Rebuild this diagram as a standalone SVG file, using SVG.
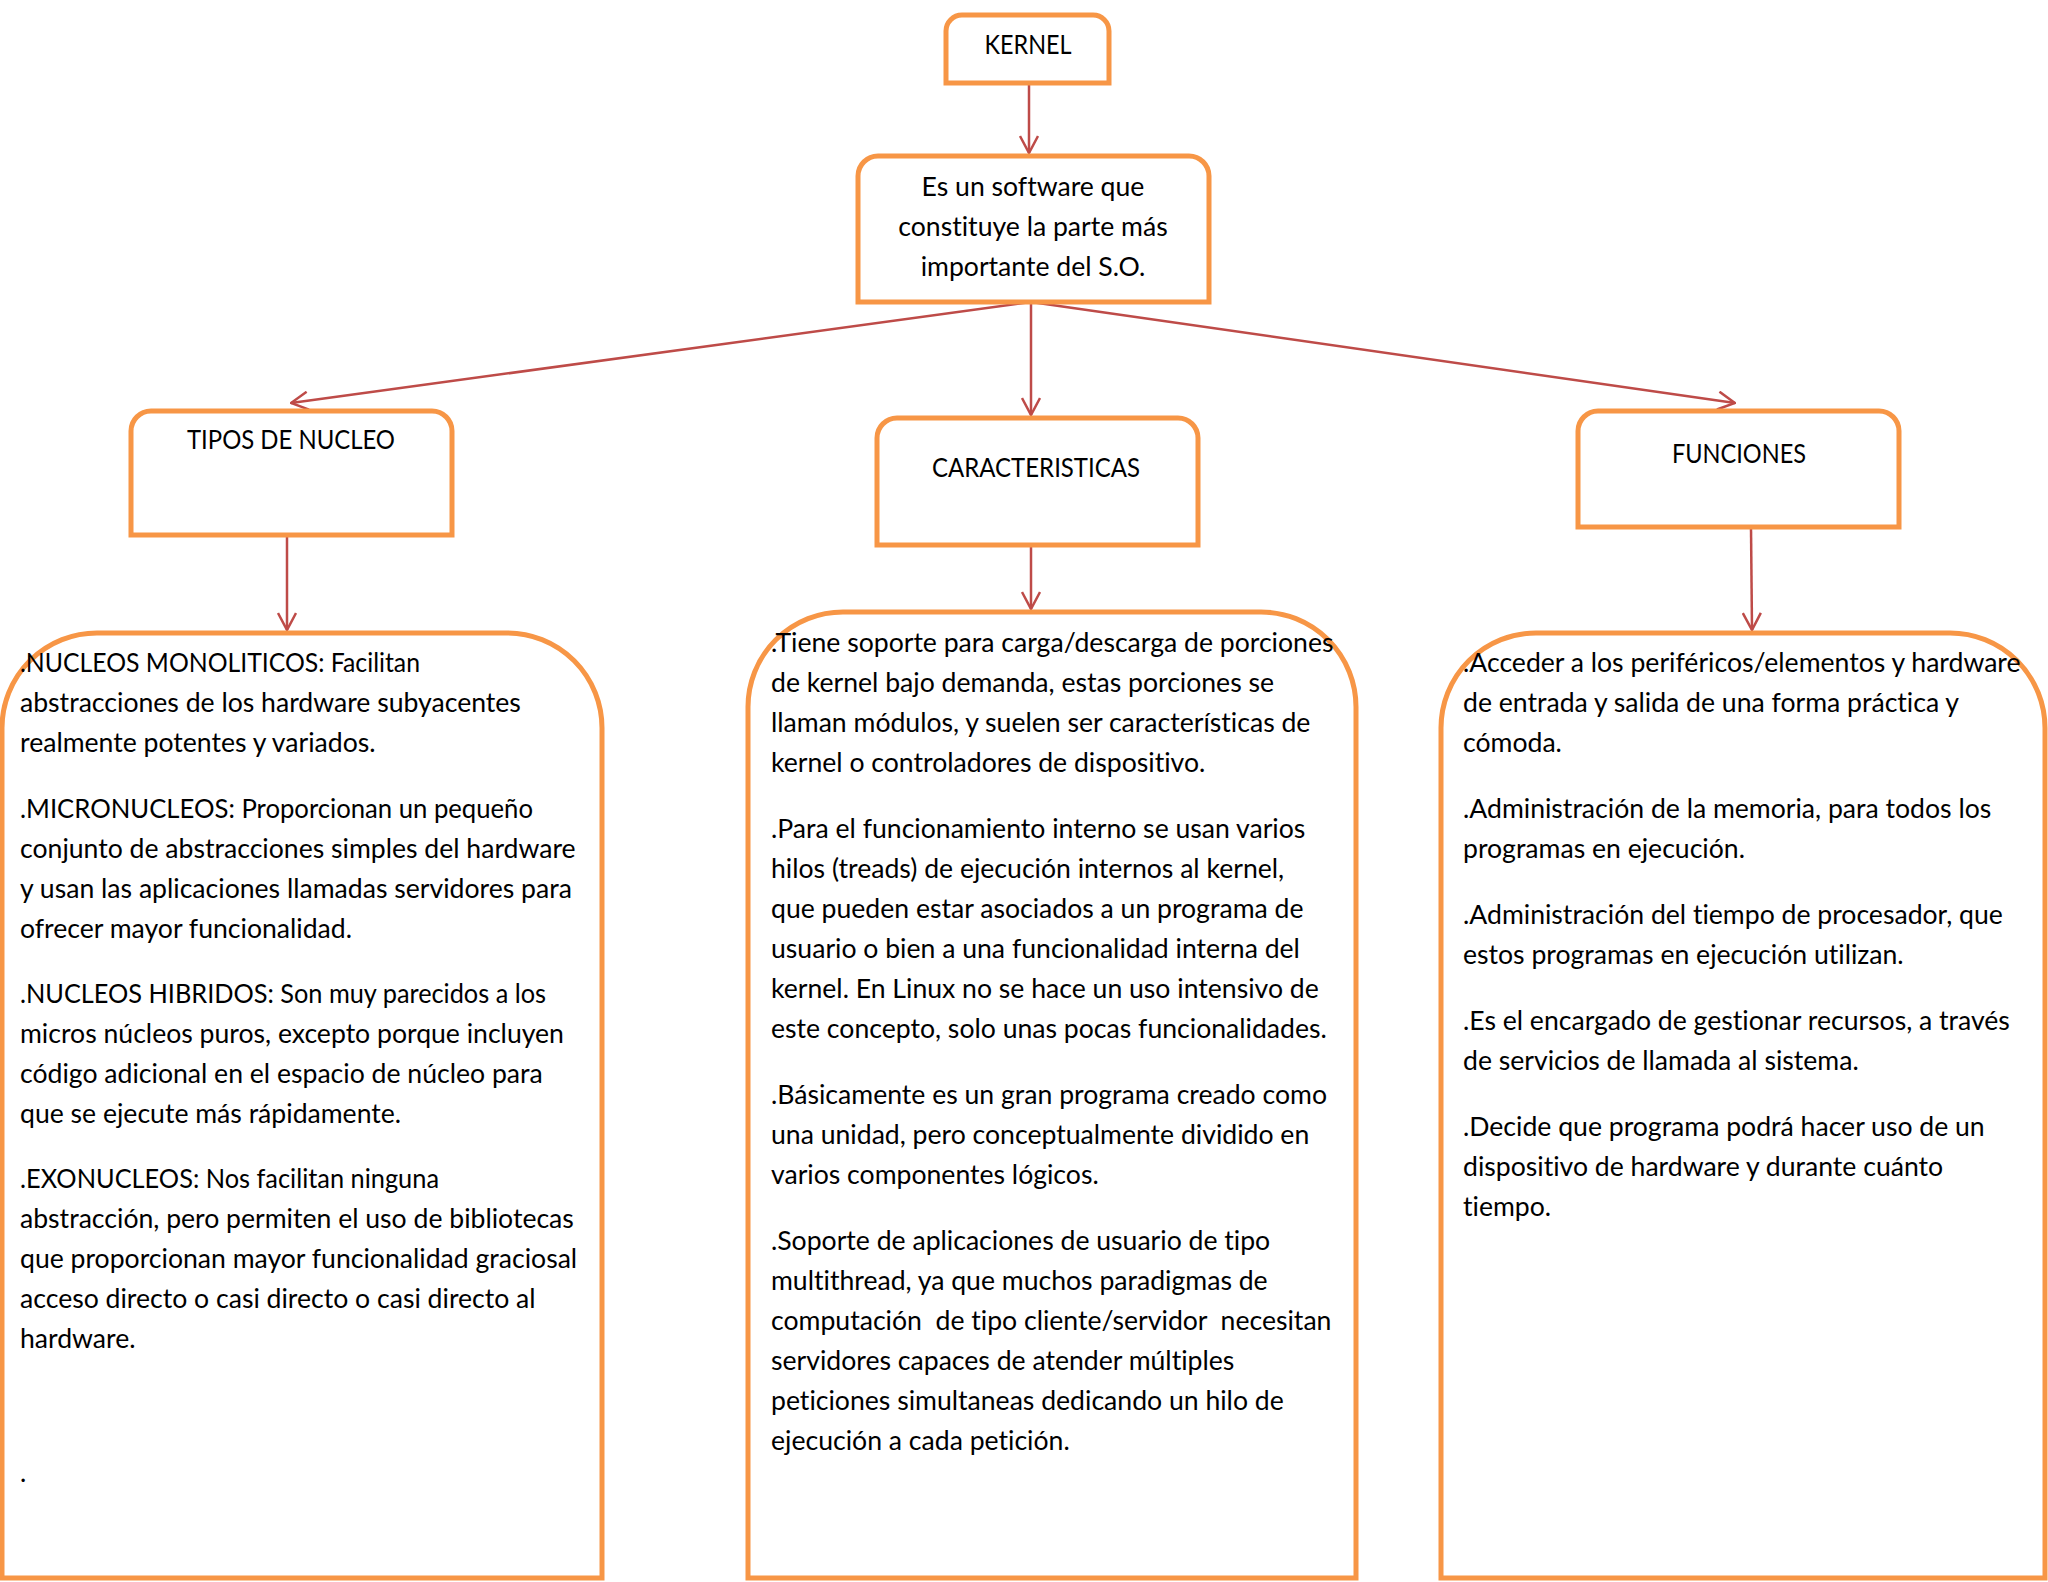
<svg xmlns="http://www.w3.org/2000/svg" width="2048" height="1582" viewBox="0 0 2048 1582">
<defs>
<style>
.box{fill:#ffffff;stroke:#F79646;stroke-width:5}
.con{stroke:#BE4B48;stroke-width:2.5;fill:none;marker-end:url(#arr)}
text{font-family:Lato,"Liberation Sans",sans-serif;font-size:26.6px;fill:#000000;white-space:pre;font-variant-ligatures:none}
.c{text-anchor:middle}
</style>
<marker id="arr" viewBox="0 0 20 20" refX="19" refY="10" markerWidth="20" markerHeight="20" markerUnits="userSpaceOnUse" orient="auto">
<path d="M2,1 L19,10 L2,19" fill="none" stroke="#BE4B48" stroke-width="2.5"/>
</marker>
</defs>
<rect width="2048" height="1582" fill="#ffffff"/>

<g id="connectors">
<line class="con" x1="1029" y1="84" x2="1029" y2="153"/>
<line class="con" x1="1031" y1="302" x2="291" y2="403"/>
<line class="con" x1="1031" y1="302" x2="1031" y2="415"/>
<line class="con" x1="1031" y1="302" x2="1735" y2="403"/>
<line class="con" x1="287" y1="536" x2="287" y2="630"/>
<line class="con" x1="1031" y1="546" x2="1031" y2="609"/>
<line class="con" x1="1751" y1="528" x2="1752" y2="630"/>
</g>

<g id="kernel">
<path class="box" d="M946,83 V31 A16,16 0 0 1 962,15 H1093 A16,16 0 0 1 1109,31 V83 Z"/>
<text class="c" x="1028" y="54" textLength="87" lengthAdjust="spacingAndGlyphs">KERNEL</text>
</g>

<g id="definicion">
<path class="box" d="M858,302 V176 A20,20 0 0 1 878,156 H1189 A20,20 0 0 1 1209,176 V302 Z"/>
<text class="c" x="1033" y="196">Es un software que</text>
<text class="c" x="1033" y="236">constituye la parte más</text>
<text class="c" x="1033" y="276">importante del S.O.</text>
</g>

<g id="tipos">
<path class="box" d="M131,535 V431 A20,20 0 0 1 151,411 H432 A20,20 0 0 1 452,431 V535 Z"/>
<text class="c" x="291" y="449" textLength="208" lengthAdjust="spacingAndGlyphs">TIPOS DE NUCLEO</text>
</g>

<g id="caracteristicas">
<path class="box" d="M877,545 V438 A20,20 0 0 1 897,418 H1178 A20,20 0 0 1 1198,438 V545 Z"/>
<text class="c" x="1036" y="477" textLength="208" lengthAdjust="spacingAndGlyphs">CARACTERISTICAS</text>
</g>

<g id="funciones">
<path class="box" d="M1578,527 V431 A20,20 0 0 1 1598,411 H1879 A20,20 0 0 1 1899,431 V527 Z"/>
<text class="c" x="1739" y="463" textLength="134" lengthAdjust="spacingAndGlyphs">FUNCIONES</text>
</g>

<g id="tipos-detalle">
<path class="box" d="M2,1578 V728 A95,95 0 0 1 97,633 H507 A95,95 0 0 1 602,728 V1578 Z"/>
<text x="20" y="672" textLength="400" lengthAdjust="spacingAndGlyphs">.NUCLEOS MONOLITICOS: Facilitan</text>
<text x="20" y="712">abstracciones de los hardware subyacentes</text>
<text x="20" y="752">realmente potentes y variados.</text>
<text x="20" y="818" textLength="513" lengthAdjust="spacingAndGlyphs">.MICRONUCLEOS: Proporcionan un pequeño</text>
<text x="20" y="858">conjunto de abstracciones simples del hardware</text>
<text x="20" y="898">y usan las aplicaciones llamadas servidores para</text>
<text x="20" y="938">ofrecer mayor funcionalidad.</text>
<text x="20" y="1003" textLength="526" lengthAdjust="spacingAndGlyphs">.NUCLEOS HIBRIDOS: Son muy parecidos a los</text>
<text x="20" y="1043">micros núcleos puros, excepto porque incluyen</text>
<text x="20" y="1083">código adicional en el espacio de núcleo para</text>
<text x="20" y="1123">que se ejecute más rápidamente.</text>
<text x="20" y="1188" textLength="419" lengthAdjust="spacingAndGlyphs">.EXONUCLEOS: Nos facilitan ninguna</text>
<text x="20" y="1228">abstracción, pero permiten el uso de bibliotecas</text>
<text x="20" y="1268">que proporcionan mayor funcionalidad graciosal</text>
<text x="20" y="1308">acceso directo o casi directo o casi directo al</text>
<text x="20" y="1348">hardware.</text>
<text x="20" y="1482">.</text>
</g>

<g id="caracteristicas-detalle">
<path class="box" d="M748,1578 V707 A95,95 0 0 1 843,612 H1261 A95,95 0 0 1 1356,707 V1578 Z"/>
<text x="771" y="652">.Tiene soporte para carga/descarga de porciones</text>
<text x="771" y="692">de kernel bajo demanda, estas porciones se</text>
<text x="771" y="732">llaman módulos, y suelen ser características de</text>
<text x="771" y="772">kernel o controladores de dispositivo.</text>
<text x="771" y="838">.Para el funcionamiento interno se usan varios</text>
<text x="771" y="878">hilos (treads) de ejecución internos al kernel,</text>
<text x="771" y="918">que pueden estar asociados a un programa de</text>
<text x="771" y="958">usuario o bien a una funcionalidad interna del</text>
<text x="771" y="998">kernel. En Linux no se hace un uso intensivo de</text>
<text x="771" y="1038">este concepto, solo unas pocas funcionalidades.</text>
<text x="771" y="1104">.Básicamente es un gran programa creado como</text>
<text x="771" y="1144">una unidad, pero conceptualmente dividido en</text>
<text x="771" y="1184">varios componentes lógicos.</text>
<text x="771" y="1250">.Soporte de aplicaciones de usuario de tipo</text>
<text x="771" y="1290">multithread, ya que muchos paradigmas de</text>
<text x="771" y="1330">computación  de tipo cliente/servidor  necesitan</text>
<text x="771" y="1370">servidores capaces de atender múltiples</text>
<text x="771" y="1410">peticiones simultaneas dedicando un hilo de</text>
<text x="771" y="1450">ejecución a cada petición.</text>
</g>

<g id="funciones-detalle">
<path class="box" d="M1441,1578 V728 A95,95 0 0 1 1536,633 H1950 A95,95 0 0 1 2045,728 V1578 Z"/>
<text x="1463" y="672">.Acceder a los periféricos/elementos y hardware</text>
<text x="1463" y="712">de entrada y salida de una forma práctica y</text>
<text x="1463" y="752">cómoda.</text>
<text x="1463" y="818">.Administración de la memoria, para todos los</text>
<text x="1463" y="858">programas en ejecución.</text>
<text x="1463" y="924">.Administración del tiempo de procesador, que</text>
<text x="1463" y="964">estos programas en ejecución utilizan.</text>
<text x="1463" y="1030">.Es el encargado de gestionar recursos, a través</text>
<text x="1463" y="1070">de servicios de llamada al sistema.</text>
<text x="1463" y="1136">.Decide que programa podrá hacer uso de un</text>
<text x="1463" y="1176">dispositivo de hardware y durante cuánto</text>
<text x="1463" y="1216">tiempo.</text>
</g>
</svg>
